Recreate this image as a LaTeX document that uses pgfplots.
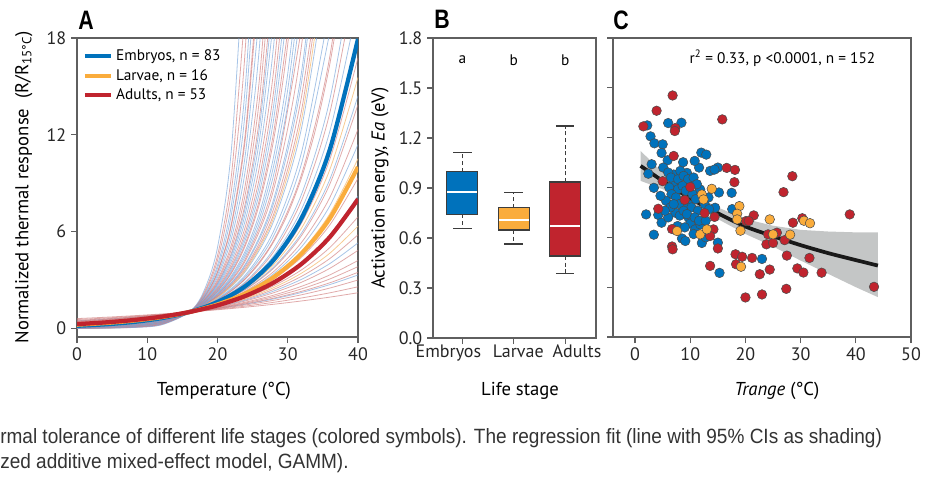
\documentclass[border=0pt]{standalone}
\usepackage{fontspec}
\setmainfont{PT Sans}
\newfontfamily\capfont{Liberation Sans}[FakeStretch=0.92]
\newfontfamily\panelfont{Liberation Sans}[FakeStretch=0.8]
\usepackage{pgfplots}
\pgfplotsset{compat=1.18}
\definecolor{cblue}{RGB}{0,114,188}
\definecolor{corange}{RGB}{250,172,60}
\definecolor{cred}{RGB}{192,36,46}
\definecolor{lblue}{RGB}{120,165,218}
\definecolor{lred}{RGB}{208,125,125}
\definecolor{lorange}{RGB}{246,190,120}
\definecolor{axgray}{RGB}{95,95,95}
\definecolor{boxgray}{RGB}{60,60,60}
\definecolor{band}{RGB}{196,198,198}
\pgfplotsset{
  myaxis/.style={
    scale only axis,
    anchor=south west,
    axis line style={axgray, line width=0.9pt},
    every tick/.style={axgray, line width=0.9pt},
    tick align=outside,
    major tick length=4.5pt,
    xtick pos=bottom, ytick pos=left,
    ticklabel style={font=\fontsize{13.5}{15}\selectfont, text=black!85},
    label style={font=\fontsize{14}{16}\selectfont},
    /pgf/number format/assume math mode=true,
  },
  thinb/.style={lblue, line width=0.6pt, opacity=0.65, smooth, forget plot},
  thinr/.style={lred, line width=0.6pt, opacity=0.65, smooth, forget plot},
  thino/.style={lorange, line width=0.6pt, opacity=0.8, smooth, forget plot},
}
\begin{document}
\begin{tikzpicture}
\path[use as bounding box] (0pt,0pt) rectangle (699pt,357pt);

% ---------------- Panel A ----------------
\begin{axis}[myaxis, at={(57.75pt,104.25pt)}, width=210.75pt, height=224.25pt,
  xmin=0, xmax=40, ymin=-0.55, ymax=18,
  xtick={0,10,20,30,40}, ytick={0,6,12,18},
  xlabel={Temperature (°C)},
  ylabel={Normalized thermal response\ \ (R/R\textsubscript{15°C})},
  xlabel style={at={(axis description cs:0.523,-0.197)}, anchor=base},
  ylabel style={at={(axis description cs:-0.189,0.5)}, anchor=center},
  legend style={at={(axis description cs:0.015,0.975)}, anchor=north west, draw=none, fill=none,
    font=\fontsize{11.5}{13}\selectfont, row sep=1pt, inner sep=1pt},
  legend cell align=left,
  legend image code/.code={\draw[#1, line width=3pt] (0pt,0pt) -- (20pt,0pt);},
]
\addplot[thinr] coordinates {(0,0.592)(4,0.675)(8,0.769)(12,0.877)(16,1)(20,1.14)(24,1.300)(28,1.482)(32,1.689)(36,1.925)(40,2.195)};
\addplot[thinb] coordinates {(0,0.451)(4,0.551)(8,0.672)(12,0.820)(16,1)(20,1.22)(24,1.488)(28,1.816)(32,2.215)(36,2.703)(40,3.297)};
\addplot[thinr] coordinates {(0,0.534)(4,0.624)(8,0.731)(12,0.855)(16,1)(20,1.17)(24,1.369)(28,1.602)(32,1.874)(36,2.192)(40,2.565)};
\addplot[thinb] coordinates {(0,0.329)(4,0.435)(8,0.574)(12,0.758)(16,1)(20,1.32)(24,1.742)(28,2.300)(32,3.036)(36,4.008)(40,5.290)};
\addplot[thinr] coordinates {(0,0.482)(4,0.579)(8,0.694)(12,0.833)(16,1)(20,1.2)(24,1.44)(28,1.728)(32,2.074)(36,2.488)(40,2.986)};
\addplot[thinr] coordinates {(0,0.410)(4,0.512)(8,0.640)(12,0.800)(16,1)(20,1.25)(24,1.563)(28,1.953)(32,2.441)(36,3.052)(40,3.815)};
\addplot[thinb] coordinates {(0,0.246)(4,0.349)(8,0.496)(12,0.704)(16,1)(20,1.42)(24,2.016)(28,2.863)(32,4.066)(36,5.774)(40,8.198)};
\addplot[thinr] coordinates {(0,0.437)(4,0.537)(8,0.661)(12,0.813)(16,1)(20,1.23)(24,1.513)(28,1.861)(32,2.289)(36,2.815)(40,3.463)};
\addplot[thinb] coordinates {(0,0.198)(4,0.296)(8,0.444)(12,0.667)(16,1)(20,1.5)(24,2.25)(28,3.375)(32,5.063)(36,7.594)(40,11.391)};
\addplot[thinr] coordinates {(0,0.384)(4,0.488)(8,0.620)(12,0.787)(16,1)(20,1.27)(24,1.613)(28,2.048)(32,2.601)(36,3.304)(40,4.196)};
\addplot[thinb] coordinates {(0,0.169)(4,0.263)(8,0.411)(12,0.641)(16,1)(20,1.56)(24,2.434)(28,3.796)(32,5.922)(36,9.239)(40,14.413)};
\addplot[thinr] coordinates {(0,0.350)(4,0.455)(8,0.592)(12,0.769)(16,1)(20,1.3)(24,1.69)(28,2.197)(32,2.856)(36,3.713)(40,4.827)};
\addplot[thinr] coordinates {(0,0.253)(4,0.357)(8,0.503)(12,0.709)(16,1)(20,1.41)(24,1.988)(28,2.803)(32,3.953)(36,5.573)(40,7.858)};
\addplot[thinb] coordinates {(0,0.135)(4,0.223)(8,0.367)(12,0.606)(16,1)(20,1.65)(24,2.723)(28,4.492)(32,7.412)(36,12.23)(40,20.18)};
\addplot[thinr] coordinates {(0,0.310)(4,0.416)(8,0.557)(12,0.746)(16,1)(20,1.34)(24,1.796)(28,2.406)(32,3.224)(36,4.320)(40,5.789)};
\addplot[thinb] coordinates {(0,0.120)(4,0.204)(8,0.346)(12,0.588)(16,1)(20,1.7)(24,2.89)(28,4.913)(32,8.352)(36,14.199)(40,24.138)};
\addplot[thinr] coordinates {(0,0.276)(4,0.380)(8,0.525)(12,0.725)(16,1)(20,1.38)(24,1.904)(28,2.628)(32,3.627)(36,5.005)(40,6.907)};
\addplot[thinr] coordinates {(0,0.173)(4,0.269)(8,0.416)(12,0.645)(16,1)(20,1.55)(24,2.403)(28,3.724)(32,5.772)(36,8.947)(40,13.867)};
\addplot[thinr] coordinates {(0,0.104)(4,0.183)(8,0.323)(12,0.568)(16,1)(20,1.76)(24,3.098)(28,5.452)(32,9.595)(36,16.887)(40,29.72)};
\addplot[thinr] coordinates {(0,0.226)(4,0.328)(8,0.476)(12,0.690)(16,1)(20,1.45)(24,2.103)(28,3.049)(32,4.421)(36,6.410)(40,9.294)};
\addplot[thinr] coordinates {(0,0.126)(4,0.211)(8,0.354)(12,0.595)(16,1)(20,1.68)(24,2.822)(28,4.742)(32,7.966)(36,13.383)(40,22.48)};
\addplot[thinb] coordinates {(0,0.091)(4,0.166)(8,0.302)(12,0.549)(16,1)(20,1.82)(24,3.312)(28,6.029)(32,10.972)(36,19.969)};
\addplot[thinb] coordinates {(0,0.097)(4,0.174)(8,0.312)(12,0.559)(16,1)(20,1.79)(24,3.204)(28,5.735)(32,10.266)(36,18.377)};
\addplot[thinr] coordinates {(0,0.187)(4,0.285)(8,0.433)(12,0.658)(16,1)(20,1.52)(24,2.310)(28,3.512)(32,5.338)(36,8.114)(40,12.333)};
\addplot[thinb] coordinates {(0,0.080)(4,0.150)(8,0.283)(12,0.532)(16,1)(20,1.88)(24,3.534)(28,6.645)(32,12.492)(36,23.485)};
\addplot[thinr] coordinates {(0,0.074)(4,0.141)(8,0.271)(12,0.521)(16,1)(20,1.92)(24,3.686)(28,7.078)(32,13.590)(36,26.09)};
\addplot[thinr] coordinates {(0,0.153)(4,0.244)(8,0.391)(12,0.625)(16,1)(20,1.6)(24,2.56)(28,4.096)(32,6.554)(36,10.486)(40,16.777)};
\addplot[thinb] coordinates {(0,0.065)(4,0.129)(8,0.255)(12,0.505)(16,1)(20,1.98)(24,3.920)(28,7.762)(32,15.37)(36,30.43)};
\addplot[thinb] coordinates {(0,0.063)(4,0.125)(8,0.25)(12,0.5)(16,1)(20,2)(24,4)(28,8)(32,16)(36,32)};
\addplot[thinr] coordinates {(0,0.107)(4,0.187)(8,0.327)(12,0.571)(16,1)(18,1.323)(20,1.75)(22,2.315)(24,3.063)(26,4.051)(28,5.359)(30,7.090)(32,9.379)(34,12.407)(36,16.41)(38,21.71)};
\addplot[thinr] coordinates {(0,0.057)(4,0.116)(8,0.238)(12,0.488)(16,1)(20,2.05)(24,4.203)(28,8.615)(32,17.66)(36,36.2)};
\addplot[thinr] coordinates {(0,0.053)(4,0.111)(8,0.231)(12,0.481)(16,1)(20,2.08)(24,4.326)(28,8.999)(32,18.72)};
\addplot[thinr] coordinates {(0,0.069)(4,0.135)(8,0.263)(12,0.513)(16,1)(18,1.396)(20,1.95)(22,2.723)(24,3.803)(26,5.310)(28,7.415)(30,10.354)(32,14.459)(34,20.19)};
\addplot[thinb] coordinates {(0,0.049)(4,0.105)(8,0.222)(12,0.472)(16,1)(18,1.456)(20,2.12)(22,3.087)(24,4.494)(26,6.544)(28,9.528)(30,13.873)(32,20.2)};
\addplot[thinb] coordinates {(0,0.046)(4,0.099)(8,0.214)(12,0.463)(16,1)(18,1.470)(20,2.16)(22,3.175)(24,4.666)(26,6.857)(28,10.078)(30,14.81)(32,21.77)};
\addplot[thinr] coordinates {(0,0.036)(4,0.082)(8,0.189)(12,0.435)(16,1)(18,1.517)(20,2.3)(22,3.488)(24,5.29)(26,8.023)(28,12.167)(30,18.45)};
\addplot[thinr] coordinates {(0,0.038)(4,0.086)(8,0.194)(12,0.441)(16,1)(18,1.507)(20,2.27)(22,3.420)(24,5.153)(26,7.764)(28,11.697)(30,17.625)(32,26.55)};
\addplot[thinb] coordinates {(0,0.043)(4,0.094)(8,0.207)(12,0.455)(16,1)(18,1.483)(20,2.2)(22,3.263)(24,4.84)(26,7.179)(28,10.648)(30,15.793)(32,23.43)};
\addplot[thinb] coordinates {(0,0.030)(4,0.072)(8,0.174)(12,0.417)(16,1)(18,1.549)(20,2.4)(22,3.718)(24,5.76)(26,8.923)(28,13.824)(30,21.42)};
\addplot[thinr] coordinates {(0,0.016)(4,0.046)(8,0.128)(12,0.357)(16,1)(18,1.673)(20,2.8)(22,4.685)(24,7.84)(26,13.12)(28,21.95)};
\addplot[thinr] coordinates {(0,0.025)(4,0.063)(8,0.158)(12,0.397)(16,1)(18,1.587)(20,2.52)(22,4.0)(24,6.350)(26,10.08)(28,16.003)(30,25.4)};
\addplot[thinb] coordinates {(0,0.033)(4,0.077)(8,0.181)(12,0.426)(16,1)(18,1.533)(20,2.35)(22,3.603)(24,5.523)(26,8.466)(28,12.978)(30,19.895)};
\addplot[thinr] coordinates {(0,0.007)(4,0.023)(8,0.082)(12,0.286)(16,1)(18,1.871)(20,3.5)(22,6.548)(24,12.25)(26,22.92)};
\addplot[thinr] coordinates {(0,0.028)(4,0.068)(8,0.167)(12,0.408)(16,1)(18,1.565)(20,2.45)(22,3.835)(24,6.003)(26,9.395)(28,14.706)(30,23.02)};
\addplot[thinb] coordinates {(0,0.022)(4,0.057)(8,0.148)(12,0.385)(16,1)(18,1.612)(20,2.6)(22,4.192)(24,6.76)(26,10.90)(28,17.576)(30,28.34)};
\addplot[thinb] coordinates {(0,0.019)(4,0.052)(8,0.139)(12,0.373)(16,1)(18,1.637)(20,2.68)(22,4.387)(24,7.182)(26,11.76)(28,19.25)};
\addplot[thinb] coordinates {(0,0.017)(4,0.048)(8,0.132)(12,0.364)(16,1)(18,1.658)(20,2.75)(22,4.560)(24,7.563)(26,12.541)(28,20.80)};
\addplot[thinr] coordinates {(0,0.014)(4,0.041)(8,0.119)(12,0.345)(16,1)(18,1.703)(20,2.9)(22,4.939)(24,8.41)(26,14.32)(28,24.39)};
\addplot[thinr] coordinates {(0,0.012)(4,0.037)(8,0.111)(12,0.333)(16,1)(18,1.732)(20,3)(22,5.196)(24,9)(26,15.59)(28,27)};
\addplot[thinb] coordinates {(0,0.010)(4,0.032)(8,0.101)(12,0.318)(16,1)(18,1.775)(20,3.15)(22,5.591)(24,9.923)(26,17.61)(28,31.26)};
\addplot[thinb] coordinates {(0,0.008)(4,0.028)(8,0.092)(12,0.303)(16,1)(18,1.817)(20,3.3)(22,5.995)(24,10.89)(26,19.78)};
\addplot[thinr] coordinates {(0,0.007)(4,0.024)(8,0.084)(12,0.290)(16,1)(18,1.857)(20,3.45)(22,6.408)(24,11.90)(26,22.11)};
\addplot[thinb] coordinates {(0,0.005)(4,0.020)(8,0.073)(12,0.270)(16,1)(18,1.924)(20,3.7)(22,7.117)(24,13.69)(26,26.33)};
\addplot[thinb] coordinates {(0,0.004)(4,0.017)(8,0.066)(12,0.256)(16,1)(18,1.975)(20,3.9)(22,7.702)(24,15.21)(26,30.04)};
\addplot[thinr] coordinates {(0,0.003)(4,0.013)(8,0.057)(12,0.238)(16,1)(18,2.049)(20,4.2)(22,8.607)(24,17.64)(26,36.15)};
\addplot[thinr] coordinates {(0,0.002)(4,0.011)(8,0.049)(12,0.222)(16,1)(18,2.121)(20,4.5)(22,9.546)(24,20.25)};
\addplot[thinb] coordinates {(0,0.002)(4,0.008)(8,0.04)(12,0.2)(16,1)(18,2.236)(20,5)(22,11.18)(24,25)};
\addplot[thino] coordinates {(0,0.292)(4,0.398)(8,0.541)(12,0.735)(16,1)(20,1.36)(24,1.850)(28,2.516)(32,3.421)(36,4.653)(40,6.328)};
\addplot[thino] coordinates {(0,0.209)(4,0.308)(8,0.457)(12,0.676)(16,1)(20,1.48)(24,2.190)(28,3.242)(32,4.798)(36,7.101)(40,10.509)};
\addplot[thino] coordinates {(0,0.161)(4,0.254)(8,0.401)(12,0.633)(16,1)(20,1.58)(24,2.496)(28,3.944)(32,6.232)(36,9.847)(40,15.558)};
\addplot[thino] coordinates {(0,0.077)(4,0.146)(8,0.277)(12,0.526)(16,1)(20,1.9)(24,3.61)(28,6.859)(32,13.032)(36,24.76)};
% thick lines
\addplot[cblue, line width=3.2pt, smooth] coordinates {(0,0.146)(4,0.236)(8,0.382)(12,0.618)(16,1)(20,1.618)(24,2.618)(28,4.236)(32,6.854)(36,11.09)(40,17.94)};
\addlegendentry{Embryos, n = 83}
\addplot[corange, line width=3.2pt, smooth] coordinates {(0,0.215)(4,0.316)(8,0.464)(12,0.681)(16,1)(20,1.468)(24,2.154)(28,3.162)(32,4.642)(36,6.813)(40,10.0)};
\addlegendentry{Larvae, n = 16}
\addplot[cred, line width=3.2pt, smooth] coordinates {(0,0.25)(4,0.354)(8,0.5)(12,0.707)(16,1)(20,1.414)(24,2)(28,2.828)(32,4)(36,5.657)(40,8)};
\addlegendentry{Adults, n = 53}
\end{axis}

% ---------------- Panel B ----------------
\begin{axis}[myaxis, at={(324.75pt,103.5pt)}, width=122.25pt, height=225pt,
  clip mode=individual,
  xmin=-0.57, xmax=2.6, ymin=0, ymax=1.8,
  xtick={0,1,2}, xticklabels={},
  ytick={0,0.3,0.6,0.9,1.2,1.5,1.8},
  yticklabel style={/pgf/number format/.cd, fixed, fixed zerofill, precision=1},
  xlabel={Life stage},
  ylabel={Activation energy, \textit{Ea} (eV)},
  xlabel style={at={(axis description cs:0.534,-0.193)}, anchor=base},
  ylabel style={at={(axis description cs:-0.325,0.5)}, anchor=center},
]
% whiskers
\addplot[boxgray, line width=0.8pt, dash pattern=on 3pt off 2pt] coordinates {(0,0.998)(0,1.112)};
\addplot[boxgray, line width=0.8pt, dash pattern=on 3pt off 2pt] coordinates {(0,0.742)(0,0.656)};
\addplot[boxgray, line width=0.8pt] coordinates {(-0.18,1.112)(0.18,1.112)};
\addplot[boxgray, line width=0.8pt] coordinates {(-0.18,0.656)(0.18,0.656)};
\addplot[boxgray, line width=0.8pt, dash pattern=on 3pt off 2pt] coordinates {(1,0.782)(1,0.872)};
\addplot[boxgray, line width=0.8pt, dash pattern=on 3pt off 2pt] coordinates {(1,0.648)(1,0.564)};
\addplot[boxgray, line width=0.8pt] coordinates {(0.82,0.872)(1.18,0.872)};
\addplot[boxgray, line width=0.8pt] coordinates {(0.82,0.564)(1.18,0.564)};
\addplot[boxgray, line width=0.8pt, dash pattern=on 3pt off 2pt] coordinates {(2,0.936)(2,1.272)};
\addplot[boxgray, line width=0.8pt, dash pattern=on 3pt off 2pt] coordinates {(2,0.492)(2,0.388)};
\addplot[boxgray, line width=0.8pt] coordinates {(1.82,1.272)(2.18,1.272)};
\addplot[boxgray, line width=0.8pt] coordinates {(1.82,0.388)(2.18,0.388)};
% boxes
\addplot[fill=cblue, draw=boxgray, line width=0.8pt] coordinates {(-0.3,0.742)(0.3,0.742)(0.3,0.998)(-0.3,0.998)} --cycle;
\addplot[fill=corange, draw=boxgray, line width=0.8pt] coordinates {(0.7,0.648)(1.3,0.648)(1.3,0.782)(0.7,0.782)} --cycle;
\addplot[fill=cred, draw=boxgray, line width=0.8pt] coordinates {(1.7,0.492)(2.3,0.492)(2.3,0.936)(1.7,0.936)} --cycle;
% medians
\addplot[white, line width=1.4pt] coordinates {(-0.29,0.874)(0.29,0.874)};
\addplot[white, line width=1.4pt] coordinates {(0.71,0.708)(1.29,0.708)};
\addplot[white, line width=1.4pt] coordinates {(1.71,0.670)(2.29,0.670)};
\node[font=\fontsize{11.5}{13}\selectfont] at (axis cs:0,1.668) {a};
\node[font=\fontsize{11.5}{13}\selectfont] at (axis cs:1,1.668) {b};
\node[font=\fontsize{11.5}{13}\selectfont] at (axis cs:2,1.668) {b};
% category labels (set slightly apart from the ticks, as in the original)
\node[anchor=base, yshift=-14.5pt, text=black!85, font=\fontsize{13.5}{15}\selectfont] at (axis cs:-0.27,0) {Embryos};
\node[anchor=base, yshift=-14.5pt, text=black!85, font=\fontsize{13.5}{15}\selectfont] at (axis cs:1.09,0) {Larvae};
\node[anchor=base, yshift=-14.5pt, text=black!85, font=\fontsize{13.5}{15}\selectfont] at (axis cs:2.23,0) {Adults};
\end{axis}

% ---------------- Panel C ----------------
\begin{axis}[myaxis, at={(459.75pt,104.25pt)}, width=223.5pt, height=224.25pt,
  xmin=-4, xmax=50, ymin=0, ymax=1.8,
  xtick={0,10,20,30,40,50},
  ytick={0,0.3,0.6,0.9,1.2,1.5,1.8}, yticklabels={},
  xlabel={\textit{Trange} (°C)},
  xlabel style={at={(axis description cs:0.55,-0.197)}, anchor=base},
]
\addplot[fill=band, draw=none] coordinates {(1,1.12)(5,0.99)(10,0.87)(15,0.78)(20,0.71)(25,0.67)(30,0.645)(35,0.635)(40,0.63)(44,0.63)(44,0.24)(40,0.30)(35,0.38)(30,0.46)(25,0.545)(20,0.62)(15,0.71)(10,0.80)(5,0.89)(1,0.94)} --cycle;
\addplot[black!90, line width=2.8pt, smooth] coordinates {(1,1.03)(5,0.94)(10,0.835)(15,0.745)(20,0.665)(25,0.607)(30,0.553)(35,0.505)(40,0.463)(44,0.43)};
\addplot[only marks, mark=*, mark size=3.6pt, mark options={fill=cblue, draw=black!70, line width=0.4pt}] coordinates {
(2.2,1.274)(6.0,1.288)(8.4,1.290)(2.8,1.208)(3.5,1.166)(5.0,1.160)(4.8,1.108)(12.0,1.110)(12.9,1.098)(5.9,1.064)
(8.7,1.052)(5.1,1.020)(13.6,1.000)(15.0,1.020)(2.4,0.983)(7.0,0.978)(9.4,0.988)(7.0,0.928)(10.0,0.938)(3.4,0.898)
(11.8,0.888)(15.2,0.870)(17.5,0.868)(2.0,0.738)(4.2,0.735)(4.8,0.688)(3.4,0.616)(7.3,0.748)(8.1,0.731)(7.7,0.668)
(8.5,0.593)(9.1,0.578)(9.7,0.718)(10.0,0.683)(10.9,0.648)(11.8,0.678)(12.1,0.566)(14.5,0.778)(15.0,0.568)(17.6,0.770)
(23.0,0.470)(15.3,0.386)(14.4,1.008)
(6.0,0.99)(6.5,0.96)(7.8,0.95)(8.2,1.00)(8.8,0.97)(9.6,0.95)(10.6,0.96)(11.2,0.92)(6.2,0.90)(7.8,0.89)
(8.6,0.91)(9.2,0.88)(10.4,0.86)(11.0,0.83)(6.6,0.86)(7.4,0.84)(8.0,0.80)(9.6,0.80)(10.2,0.78)(11.4,0.76)
(12.6,0.80)(13.3,0.84)(5.6,0.82)(6.4,0.78)(7.0,0.80)(8.8,0.76)(9.4,0.74)(10.8,0.72)(11.6,0.70)(12.8,0.70)
(13.4,0.77)(6.0,0.72)(5.4,0.76)(9.0,0.66)(10.6,0.62)(12.8,0.60)(4.6,0.85)(11.6,1.02)(10.8,1.06)(3.0,1.04)};
\addplot[only marks, mark=*, mark size=3.6pt, mark options={fill=cred, draw=black!70, line width=0.4pt}] coordinates {
(6.8,1.454)(3.9,1.362)(1.5,1.268)(7.3,1.258)(7.2,1.240)(15.8,1.310)(7.0,1.090)(16.6,1.018)(18.1,1.006)(18.0,0.932)
(28.5,0.968)(26.9,0.872)(5.0,0.938)(10.0,0.903)(9.0,0.825)(4.2,0.772)(38.9,0.738)(21.5,0.732)(12.6,0.746)(14.4,0.723)
(6.7,0.650)(6.7,0.545)(6.8,0.528)(14.2,0.648)(13.6,0.608)(15.0,0.533)(20.1,0.698)(20.6,0.698)(24.1,0.618)(25.7,0.628)
(28.6,0.688)(30.3,0.715)(23.8,0.558)(25.0,0.566)(27.1,0.583)(18.2,0.498)(18.3,0.438)(19.4,0.483)(21.2,0.476)(27.5,0.490)
(31.6,0.476)(13.6,0.428)(22.6,0.378)(24.4,0.406)(29.4,0.413)(30.5,0.388)(33.8,0.387)(27.4,0.290)(20.0,0.238)(23.0,0.256)
(43.3,0.302)};
\addplot[only marks, mark=*, mark size=3.6pt, mark options={fill=corange, draw=black!70, line width=0.4pt}] coordinates {
(12.1,0.858)(13.9,0.892)(12.4,0.828)(18.9,0.788)(18.5,0.742)(18.5,0.708)(19.1,0.640)(24.4,0.708)(25.0,0.618)(28.1,0.616)
(30.6,0.700)(31.7,0.685)(7.6,0.638)(11.8,0.618)(13.0,0.648)(19.2,0.423)};
\node[font=\fontsize{11.5}{13}\selectfont] at (axis cs:26.7,1.68) {r\textsuperscript{2} = 0.33, p <0.0001, n = 152};
\end{axis}

% panel letters
\node[anchor=base west, inner sep=0pt, font=\panelfont\bfseries\fontsize{20}{22}\selectfont] at (58.5pt,334.5pt) {A};
\node[anchor=base west, inner sep=0pt, font=\panelfont\bfseries\fontsize{20}{22}\selectfont] at (325.5pt,335.25pt) {B};
\node[anchor=base west, inner sep=0pt, font=\panelfont\bfseries\fontsize{20}{22}\selectfont] at (459.75pt,334.5pt) {C};
% caption fragment
\node[anchor=base west, inner sep=0pt, text=black!80, font=\capfont\fontsize{15.5}{17}\selectfont] at (0pt,24.75pt) {rmal tolerance of different life stages (colored symbols). The regression fit (line with 95\% CIs as shading)};
\node[anchor=base west, inner sep=0pt, text=black!80, font=\capfont\fontsize{15.5}{17}\selectfont] at (0pt,6pt) {zed additive mixed-effect model, GAMM).};
\end{tikzpicture}
\end{document}
